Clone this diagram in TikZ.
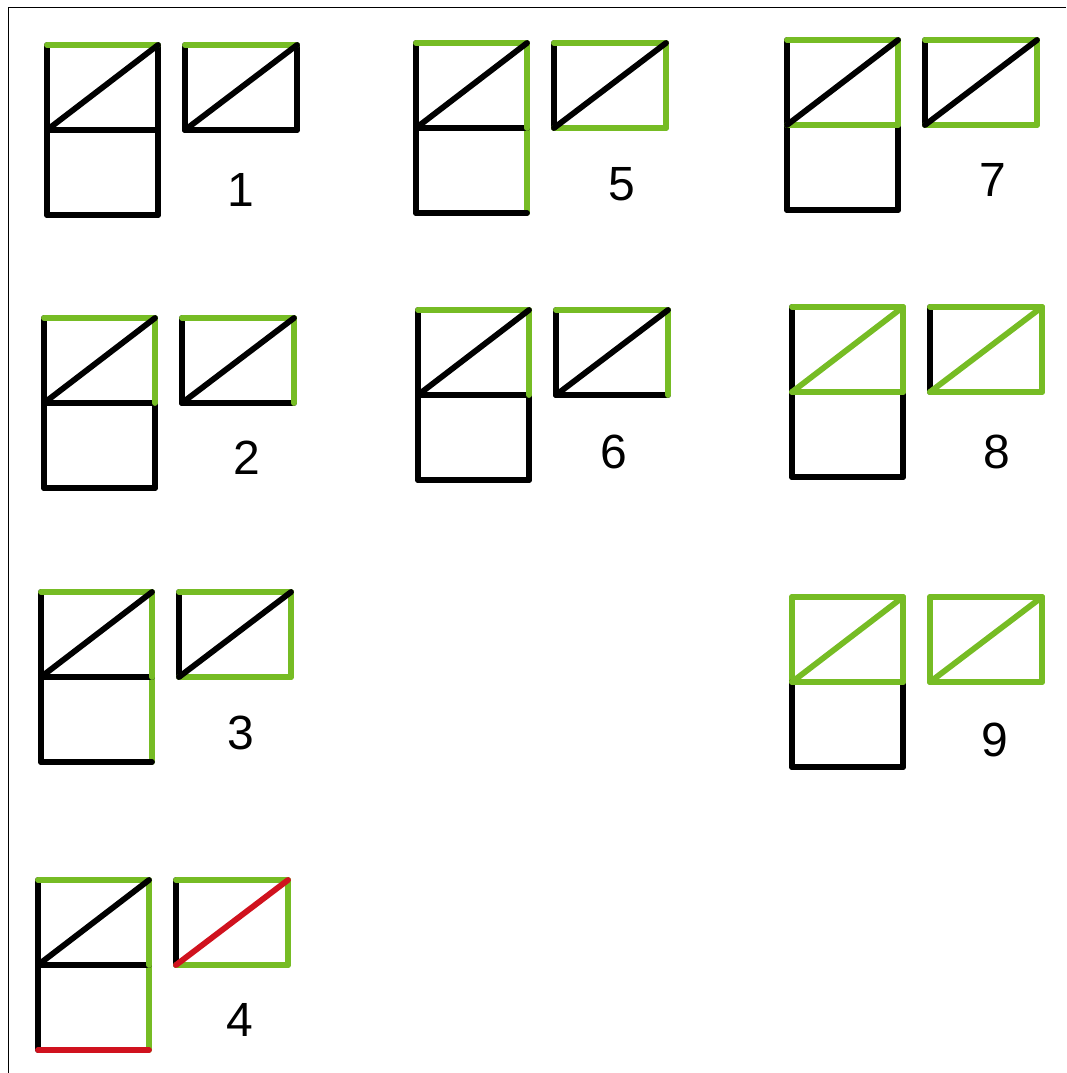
\documentclass[tikz,border=0pt]{standalone}
\usepackage{fontspec}
\setmainfont{Liberation Sans}
\usetikzlibrary{calc}
\definecolor{pgreen}{RGB}{118,188,36}
\definecolor{pred}{RGB}{208,18,30}
\pgfkeys{/pan/.is family, /pan/.cd,
  lt/.store in=\pLT, t/.store in=\pT, rt/.store in=\pRT, m/.store in=\pM,
  d/.store in=\pD, lb/.store in=\pLB, rb/.store in=\pRB, b/.store in=\pB,
  sl/.store in=\sL, st/.store in=\sT, sr/.store in=\sR, sb/.store in=\sB,
  sd/.store in=\sD}
\tikzset{
  edge/.style={line width=5.8pt, line cap=round},
  lbl/.style={font=\fontsize{48}{48}\selectfont, inner sep=0pt},
  frameline/.style={line width=1pt, black}
}
\newcommand\drawpanel[5][]{%
  \pgfkeys{/pan/.cd, lt=black, t=black, rt=black, m=black, d=black,
    lb=black, rb=black, b=black, sl=black, st=black, sr=black, sb=black,
    sd=black, #1}%
  \coordinate (#2-a) at (#3,#4);
  \coordinate (#2-b) at ($(#2-a)+(111,0)$);
  \coordinate (#2-c) at ($(#2-a)+(0,85)$);
  \coordinate (#2-d) at ($(#2-a)+(111,85)$);
  \coordinate (#2-e) at ($(#2-a)+(0,170)$);
  \coordinate (#2-f) at ($(#2-a)+(111,170)$);
  \coordinate (#2-g) at ($(#2-a)+(138,0)$);
  \coordinate (#2-h) at ($(#2-a)+(250,0)$);
  \coordinate (#2-i) at ($(#2-a)+(138,85)$);
  \coordinate (#2-j) at ($(#2-a)+(250,85)$);
  \draw[edge,\pLT] (#2-a) -- (#2-c);
  \draw[edge,\pLB] (#2-c) -- (#2-e);
  \draw[edge,\pRB] (#2-d) -- (#2-f);
  \draw[edge,\pB] (#2-e) -- (#2-f);
  \draw[edge,\pM] (#2-c) -- (#2-d);
  \draw[edge,\pRT] (#2-b) -- (#2-d);
  \draw[edge,\pT] (#2-a) -- (#2-b);
  \draw[edge,\pD] (#2-c) -- (#2-b);
  \draw[edge,\sL] (#2-g) -- (#2-i);
  \draw[edge,\sB] (#2-i) -- (#2-j);
  \draw[edge,\sR] (#2-h) -- (#2-j);
  \draw[edge,\sT] (#2-g) -- (#2-h);
  \draw[edge,\sD] (#2-i) -- (#2-h);
  \node[lbl] (#2-n) at (#5) {#2};
}
\begin{document}
\begin{tikzpicture}[x=1pt,y=-1pt]
\useasboundingbox (0,0) rectangle (1066,1073);
\draw[frameline] (8,1073) -- (8,8) -- (1066,8);
% column 1
\drawpanel[t=pgreen, st=pgreen]{1}{47}{45}{241,190}
\drawpanel[t=pgreen, rt=pgreen, st=pgreen, sr=pgreen]{2}{44}{318}{247,458}
\drawpanel[t=pgreen, rt=pgreen, rb=pgreen, st=pgreen, sr=pgreen, sb=pgreen]{3}{41}{592}{241,733}
\drawpanel[t=pgreen, rt=pgreen, rb=pgreen, b=pred, st=pgreen, sr=pgreen, sb=pgreen, sd=pred]{4}{38}{880}{240,1020}
% column 2
\drawpanel[t=pgreen, rt=pgreen, rb=pgreen, st=pgreen, sr=pgreen, sb=pgreen]{5}{416}{43}{622,184}
\drawpanel[t=pgreen, rt=pgreen, st=pgreen, sr=pgreen]{6}{418}{310}{614,452}
% column 3
\drawpanel[t=pgreen, rt=pgreen, m=pgreen, st=pgreen, sr=pgreen, sb=pgreen]{7}{787}{40}{993,180}
\drawpanel[t=pgreen, rt=pgreen, m=pgreen, d=pgreen, st=pgreen, sr=pgreen, sb=pgreen, sd=pgreen]{8}{792}{307}{997,452}
\drawpanel[lt=pgreen, t=pgreen, rt=pgreen, m=pgreen, d=pgreen, sl=pgreen, st=pgreen, sr=pgreen, sb=pgreen, sd=pgreen]{9}{792}{597}{995,740}
\end{tikzpicture}
\end{document}
